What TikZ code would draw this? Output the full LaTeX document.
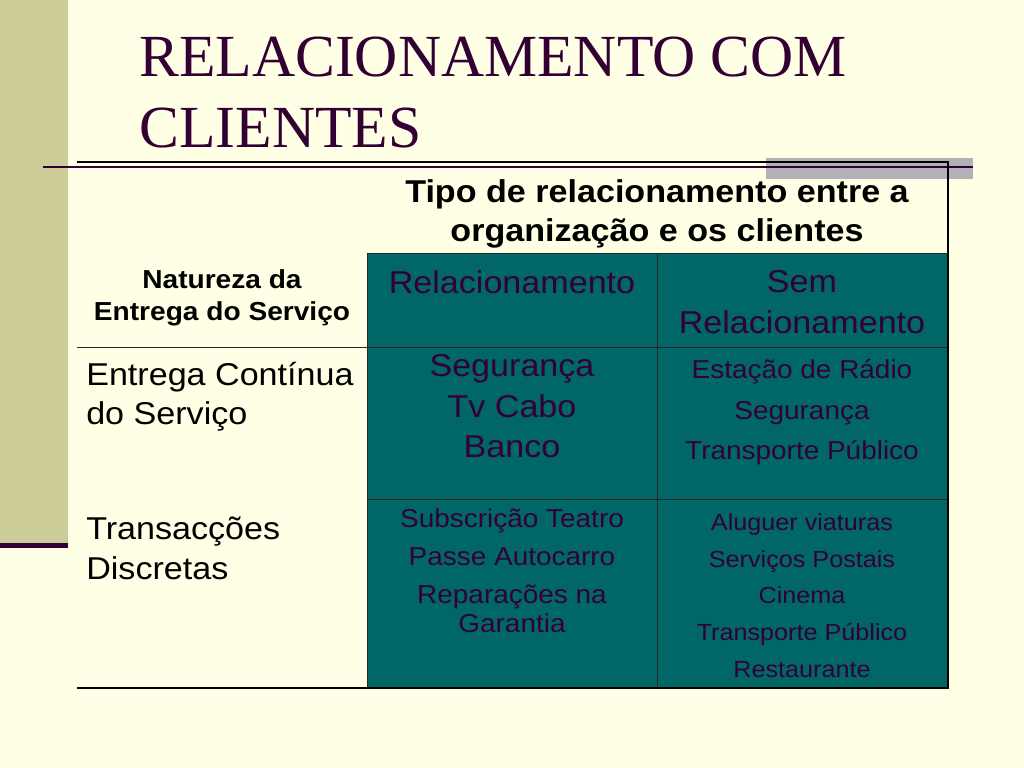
\documentclass[tikz,border=0pt]{standalone}
\usepackage{fontspec}
\setmainfont{Liberation Serif}
\newfontfamily\arialfont[FakeStretch=1.08]{Liberation Sans}
\usepackage{tikz}

\definecolor{slidecream}{RGB}{255,255,229}
\definecolor{sidekhaki}{RGB}{204,204,153}
\definecolor{plum}{RGB}{51,0,51}
\definecolor{cellteal}{RGB}{0,102,102}
\definecolor{shadowgrey}{RGB}{178,176,184}

\begin{document}
\begin{tikzpicture}[x=0.703125pt, y=-0.703125pt,
    tableframe/.style={line width=1.8pt},
    tablerule/.style={line width=0.7pt, black!85},
    cell/.style={inner sep=0pt, align=center, text=plum},
    sidecell/.style={inner sep=0pt, align=left, anchor=west}]
  % Slide background and side band
  \fill[slidecream] (0,0) rectangle (1024,768);
  \fill[sidekhaki] (0,0) rectangle (68,543);
  \fill[plum] (0,543) rectangle (68,548);

  % Title
  \node[inner sep=0pt, anchor=west, align=left, text=plum, font=\fontsize{42}{50}\selectfont] (title) at (139,92.3) {RELACIONAMENTO COM\\CLIENTES};

  % Teal body of the table
  \fill[cellteal] (367,253) rectangle (948,688);

  % Title rule with grey shadow
  \fill[shadowgrey] (766,158) rectangle (973,179);
  \draw[plum, line width=1pt] (43,167) -- (973,167);

  % Grid lines and frame
  \draw[tablerule] (367,253) -- (948,253);
  \draw[tablerule] (77,347) -- (948,347);
  \draw[tablerule] (367,499) -- (948,499);
  \draw[tablerule] (367,253) -- (367,688);
  \draw[tablerule] (657,253) -- (657,688);
  \draw[tableframe] (77,162) -- (948,162) -- (948,688) -- (77,688);

  % Header cells
  \node[cell, text=black, font=\arialfont\bfseries\fontsize{22.2}{27.5}\selectfont] (tipo) at (657,213.5) {Tipo de relacionamento entre a\\organização e os clientes};
  \node[cell, text=black, font=\arialfont\bfseries\fontsize{18.3}{22.3}\selectfont] (natureza) at (222,297.6) {Natureza da\\Entrega do Serviço};
  \node[cell, font=\arialfont\fontsize{22.2}{28.3}\selectfont] (rel) at (512,282) {Relacionamento};
  \node[cell, font=\arialfont\fontsize{22.2}{28.3}\selectfont] (semrel) at (802,302.1) {Sem\\Relacionamento};

  % Row labels
  \node[sidecell, font=\arialfont\fontsize{22.2}{27.7}\selectfont] (continua) at (86,397) {Entrega Contínua\\do Serviço};
  \node[sidecell, font=\arialfont\fontsize{22.2}{28.1}\selectfont] (discretas) at (86,548) {Transacções\\Discretas};

  % Body cells
  \node[cell, font=\arialfont\fontsize{22.2}{28.5}\selectfont] (relcont) at (512,406.2) {Segurança\\Tv Cabo\\Banco};
  \node[cell, font=\arialfont\fontsize{18.2}{28.7}\selectfont] (semcont) at (802,412.3) {Estação de Rádio\\Segurança\\Transporte Público};
  \node[cell, font=\arialfont\fontsize{18.2}{26.7}\selectfont] (reldisc) at (512,570.7) {Subscrição Teatro\\Passe Autocarro\\Reparações na\\[-6.7pt]Garantia};
  \node[cell, font=\arialfont\fontsize{16.4}{25.9}\selectfont] (semdisc) at (802,595.5) {Aluguer viaturas\\Serviços Postais\\Cinema\\Transporte Público\\Restaurante};
\end{tikzpicture}
\end{document}
